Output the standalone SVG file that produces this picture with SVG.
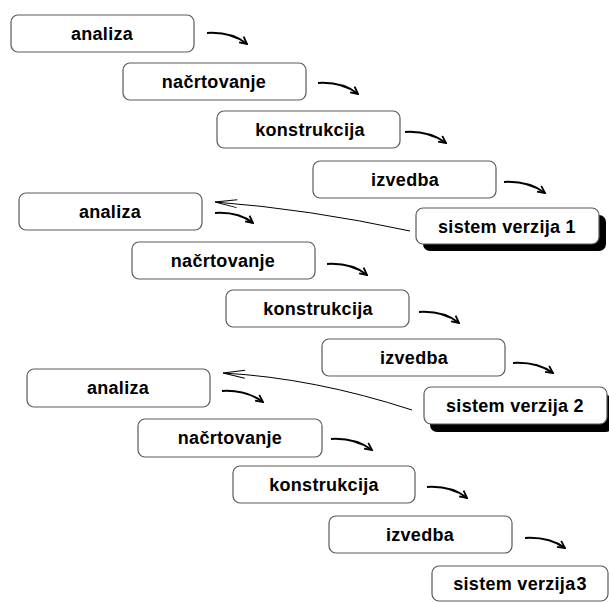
<svg xmlns="http://www.w3.org/2000/svg" width="609" height="602" viewBox="0 0 609 602">
<style>
  .box { fill: #fff; stroke: #5a5a5a; stroke-width: 1.2; }
  .shadow { fill: #000; }
  .lbl { font-family: "Liberation Sans", Arial, sans-serif; font-weight: bold; font-size: 18px; letter-spacing: 0.3px; fill: #000; text-anchor: middle; }
  .fwd { fill: none; stroke: #000; stroke-width: 2; marker-end: url(#ah); }
  .back { fill: none; stroke: #000; stroke-width: 1; marker-start: url(#bh); }
</style>
<defs>
  <marker id="ah" viewBox="0 0 10 10" refX="9" refY="5" orient="auto" markerUnits="userSpaceOnUse" markerWidth="9" markerHeight="9">
    <path d="M1,1 L9,5 L1,9" fill="none" stroke="#000" stroke-width="2"/>
  </marker>
  <marker id="bh" viewBox="0 0 24 10" refX="23" refY="5" orient="auto-start-reverse" markerUnits="userSpaceOnUse" markerWidth="24" markerHeight="10">
    <path d="M1,1 L23,5 L1,9" fill="none" stroke="#000" stroke-width="1"/>
  </marker>
</defs>

<g id="connectors">
  <path class="fwd" d="M207,33 C225,32 237,36 247,44"/>
  <path class="fwd" d="M318,83 C336,82 348,86 358,94"/>
  <path class="fwd" d="M405,132 C423,131 435,135 446,143"/>
  <path class="fwd" d="M504,182 C522,181 534,185 545,193"/>
  <path class="fwd" d="M215,213 C233,212 244,216 253,223"/>
  <path class="fwd" d="M327,264 C345,263 357,267 367,275"/>
  <path class="fwd" d="M419,312 C437,311 449,315 459,323"/>
  <path class="fwd" d="M513,363 C531,362 543,366 553,373"/>
  <path class="fwd" d="M222,391 C240,390 252,394 263,402"/>
  <path class="fwd" d="M331,439 C349,438 361,442 372,450"/>
  <path class="fwd" d="M427,487 C445,486 457,490 467,498"/>
  <path class="fwd" d="M525,538 C543,537 555,541 565,548"/>
  <path class="back" d="M215,202 Q308,209 410,231"/>
  <path class="back" d="M223,373 Q314,378 412,410"/>
</g>

<g id="analiza-1"><rect class="box" x="11" y="15" width="183" height="37" rx="7"/><text class="lbl" x="102" y="40">analiza</text></g>
<g id="nacrtovanje-1"><rect class="box" x="123" y="63" width="183" height="37" rx="7"/><text class="lbl" x="214" y="88">načrtovanje</text></g>
<g id="konstrukcija-1"><rect class="box" x="217" y="111" width="183" height="37" rx="7"/><text class="lbl" x="310" y="136">konstrukcija</text></g>
<g id="izvedba-1"><rect class="box" x="313" y="161" width="183" height="37" rx="7"/><text class="lbl" x="405" y="186">izvedba</text></g>
<g id="sistem-1"><rect class="shadow" x="423" y="215" width="183" height="36" rx="7"/><rect class="box" x="416" y="208" width="183" height="36" rx="7"/><text class="lbl" x="507" y="233">sistem verzija 1</text></g>

<g id="analiza-2"><rect class="box" x="19" y="193" width="183" height="37" rx="7"/><text class="lbl" x="110" y="218">analiza</text></g>
<g id="nacrtovanje-2"><rect class="box" x="132" y="242" width="183" height="37" rx="7"/><text class="lbl" x="223" y="267">načrtovanje</text></g>
<g id="konstrukcija-2"><rect class="box" x="226" y="290" width="183" height="37" rx="7"/><text class="lbl" x="318" y="315">konstrukcija</text></g>
<g id="izvedba-2"><rect class="box" x="322" y="339" width="183" height="37" rx="7"/><text class="lbl" x="414" y="364">izvedba</text></g>
<g id="sistem-2"><rect class="shadow" x="430" y="395" width="183" height="37" rx="7"/><rect class="box" x="424" y="387" width="183" height="37" rx="7"/><text class="lbl" x="515" y="412">sistem verzija 2</text></g>

<g id="analiza-3"><rect class="box" x="27" y="369" width="183" height="38" rx="7"/><text class="lbl" x="118" y="394">analiza</text></g>
<g id="nacrtovanje-3"><rect class="box" x="138" y="419" width="184" height="38" rx="7"/><text class="lbl" x="230" y="444">načrtovanje</text></g>
<g id="konstrukcija-3"><rect class="box" x="233" y="466" width="182" height="37" rx="7"/><text class="lbl" x="324" y="491">konstrukcija</text></g>
<g id="izvedba-3"><rect class="box" x="329" y="516" width="183" height="37" rx="7"/><text class="lbl" x="420" y="541">izvedba</text></g>
<g id="sistem-3"><rect class="box" x="432" y="566" width="176" height="35" rx="7"/><text class="lbl" x="520" y="590">sistem verzija<tspan dx="1">3</tspan></text></g>
</svg>
